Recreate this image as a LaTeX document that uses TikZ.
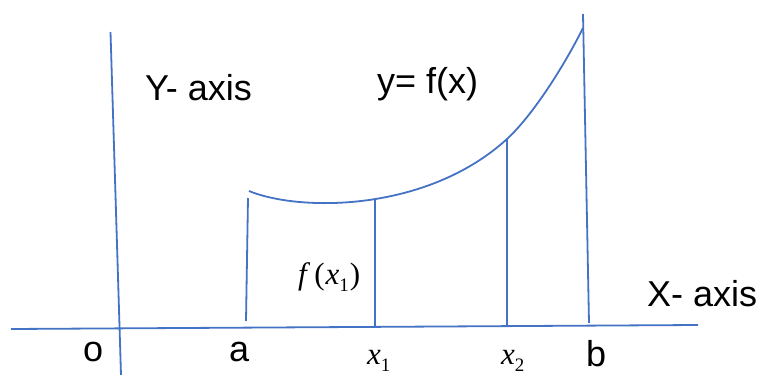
\documentclass[tikz,border=0pt]{standalone}
\usepackage{fontspec}
\setmainfont{Liberation Sans}
\newfontfamily\tms{Liberation Serif}
\definecolor{axblue}{RGB}{68,114,196}
\newcommand{\subone}[1]{\raisebox{-7pt}{\upshape\fontsize{19}{20}\selectfont #1}}
\begin{document}
\begin{tikzpicture}[x=1pt,y=-1pt,
  ax/.style={draw=axblue,line width=1.8pt},
  lbl/.style={inner sep=0pt,anchor=base west,font=\fontsize{36}{40}\selectfont},
  mlbl/.style={inner sep=0pt,anchor=base west,font=\tms\fontsize{31}{34}\selectfont}]
\useasboundingbox (0,0) rectangle (764,375);
% axes
\coordinate (xl) at (11,329);
\coordinate (xr) at (698,325);
\coordinate (yt) at (110.5,32);
\coordinate (yb) at (121,375);
\draw[ax] (xl) -- (xr);
\draw[ax] (yt) -- (yb);
% curve
\coordinate (c0) at (249,191);
\coordinate (c1) at (507,139);
\coordinate (c2) at (583,28);
\draw[ax] (c0) .. controls (300,212) and (427,212) .. (c1)
              .. controls (532,116) and (563,68) .. (c2);
% ordinates
\coordinate (at) at (248,198);   \coordinate (ab) at (246,321);
\coordinate (x1t) at (375,199);  \coordinate (x1b) at (375,327);
\coordinate (x2t) at (507,139);  \coordinate (x2b) at (507,326);
\coordinate (bt) at (583,14);    \coordinate (bb) at (589,323);
\draw[ax] (at) -- (ab);
\draw[ax] (x1t) -- (x1b);
\draw[ax] (x2t) -- (x2b);
\draw[ax] (bt) -- (bb);
% labels
\node[lbl] (ylab) at (145,100) {Y- axis};
\node[lbl] (flab) at (377,93) {y= f(x)};
\node[lbl] (xlab) at (647,306) {X- axis};
\node[lbl] (o) at (83,361) {o};
\node[lbl] (a) at (229,361) {a};
\node[lbl] (b) at (586,366) {b};
\node[mlbl] (x1) at (367,364) {\itshape x\/\subone{1}};
\node[mlbl] (x2) at (501,364) {\itshape x\/\subone{2}};
\node[mlbl] (fx1) at (298,284) {\itshape f\/\kern4pt\upshape(\kern1pt\itshape x\/\subone{1}\kern1pt\upshape)};
\end{tikzpicture}
\end{document}
